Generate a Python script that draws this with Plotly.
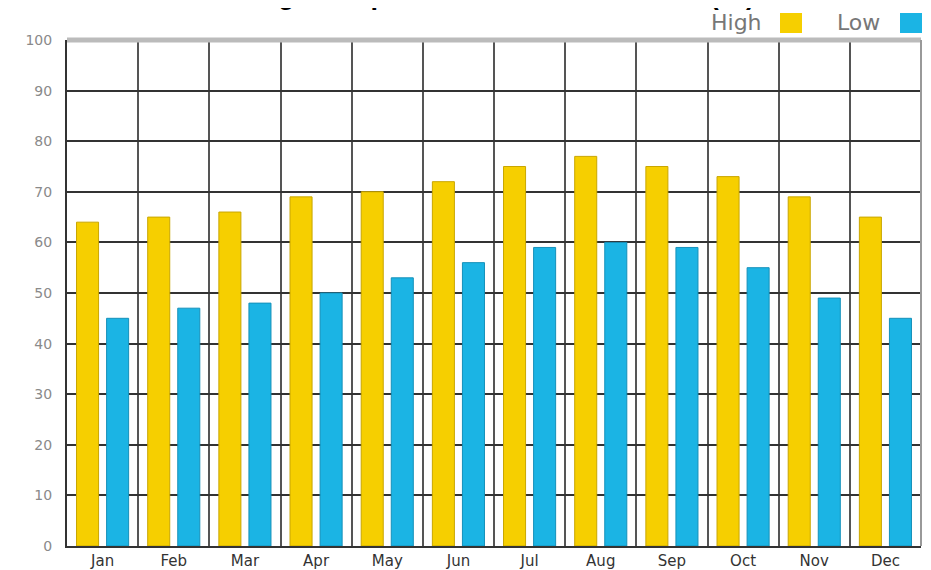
import plotly.graph_objects as go

months = ["Jan", "Feb", "Mar", "Apr", "May", "Jun", "Jul", "Aug", "Sep", "Oct", "Nov", "Dec"]
high = [64, 65, 66, 69, 70, 72, 75, 77, 75, 73, 69, 65]
low = [45, 47, 48, 50, 53, 56, 59, 60, 59, 55, 49, 45]
y_ticks = list(range(0, 101, 10))
title_text = "Average Temperature in San Francisco (°F)"
series_names = ["High", "Low"]
series_colors = ["#F6CF00", "#1BB4E4"]
series_edges = ["#C9A600", "#1590BA"]

# the page body adds an 8px offset; the figure is sized to fit the window
OFF = 8
W, H = 931 - OFF, 570 - OFF
ML, MT = 67 - OFF, 40 - OFF
MR = W - (921 - OFF)
MB = H - (546 - OFF)
PW = W - ML - MR
PH = H - MT - MB


def px_x(p):
    # p: page pixel x
    return (p - OFF - ML) / PW


def px_y(p):
    # p: page pixel y
    return 1 + (MT - (p - OFF)) / PH


fig = go.Figure()
for name, vals, col, edge in zip(series_names, [high, low], series_colors, series_edges):
    fig.add_trace(go.Bar(
        x=months, y=vals, name=name,
        marker=dict(color=col, line=dict(color=edge, width=1)),
        showlegend=False,
    ))

fig.update_layout(
    width=W, height=H,
    margin=dict(l=ML, r=MR, t=MT, b=MB),
    paper_bgcolor="white", plot_bgcolor="white",
    barmode="group", bargap=0.155, bargroupgap=0.267,
    font=dict(family="DejaVu Sans", color="#444"),
)
fig.update_xaxes(
    type="category", tickson="boundaries", showgrid=True,
    gridcolor="#555", gridwidth=2, automargin=False,
    showline=True, linecolor="#333", linewidth=2,
    ticks="", tickfont=dict(size=15, color="#333", family="DejaVu Sans"),
    ticklabelstandoff=0,
)
fig.update_yaxes(
    range=[0, 100], tickvals=y_ticks, showgrid=True,
    gridcolor="#333", gridwidth=2, zeroline=False, automargin=False,
    showline=True, linecolor="#333", linewidth=2,
    ticks="", tickfont=dict(size=14, color="#8a8a8a", family="DejaVu Sans"),
    ticklabelstandoff=10,
)

# top and right border
fig.add_shape(type="line", xref="paper", yref="paper", x0=0, x1=1, y0=1, y1=1,
              line=dict(color="#BBBBBB", width=5), layer="above")
fig.add_shape(type="line", xref="paper", yref="paper", x0=1, x1=1, y0=0, y1=1,
              line=dict(color="#999999", width=2), layer="above")

# cropped title (only descenders visible at the top edge)
fig.add_annotation(text=title_text, xref="paper", yref="paper",
                   x=px_x(202), y=px_y(12), xanchor="left", yanchor="bottom",
                   showarrow=False,
                   font=dict(family="Liberation Sans", size=27, color="black", weight=700))

# legend (label before swatch)
legend_pos = [(764, 780, 802), (882, 900, 922)]
for name, col, (tx, s0, s1) in zip(series_names, series_colors, legend_pos):
    fig.add_annotation(text=name, xref="paper", yref="paper",
                       x=px_x(tx), y=px_y(23), xanchor="right", yanchor="middle",
                       showarrow=False,
                       font=dict(family="DejaVu Sans", size=22, color="#777"))
    fig.add_shape(type="rect", xref="paper", yref="paper",
                  x0=px_x(s0), x1=px_x(s1), y0=px_y(33), y1=px_y(13),
                  fillcolor=col, line=dict(width=0))

fig.write_html("out.html")
